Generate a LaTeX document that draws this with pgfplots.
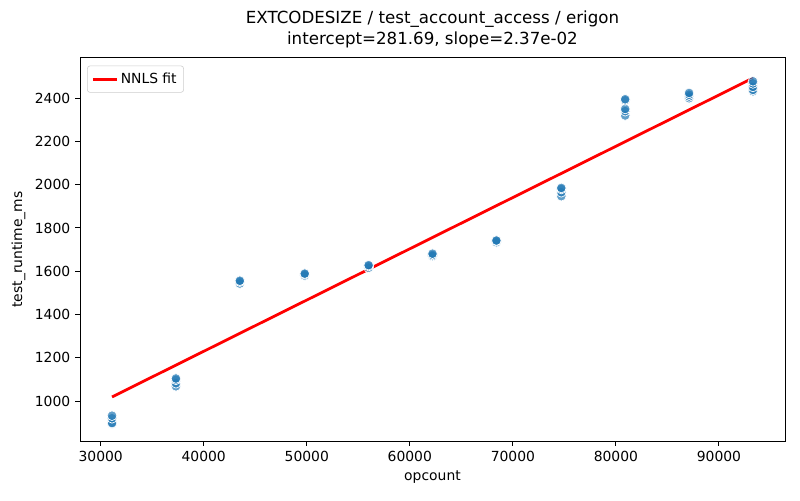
\documentclass[border=0pt]{standalone}
\usepackage{fontspec}
\setmainfont{DejaVu Sans}
\usepackage{pgfplots}
\pgfplotsset{compat=1.18}
\definecolor{mblue}{HTML}{1F77B4}
\begin{document}
\begin{tikzpicture}[x=0.72pt,y=0.72pt]
\useasboundingbox (0,0) rectangle (800,500);
\begin{axis}[
  at={(80pt*0.72,59pt*0.72)}, anchor=south west,
  scale only axis, width=507.6pt, height=275.8pt,
  xmin=27990, xmax=96410, ymin=815, ymax=2586,
  xtick={30000,40000,...,90000}, ytick={1000,1200,...,2400},
  /pgf/number format/assume math mode=true,
  /pgf/number format/fixed, /pgf/number format/1000 sep={},
  scaled x ticks=false, scaled y ticks=false,
  tick label style={font=\fontsize{10}{12}\selectfont},
  label style={font=\fontsize{10}{12}\selectfont},
  xlabel={opcount}, ylabel={test\_runtime\_ms},
  tick align=outside, tick pos=left,
  major tick length=3.5pt,
  axis line style={line width=0.7pt},
  every tick/.style={black, line width=0.7pt},
  title style={font=\fontsize{12}{14.5}\selectfont, align=center, yshift=-2pt},
  title={EXTCODESIZE / test\_account\_access / erigon\\intercept=281.69, slope=2.37e-02},
  legend style={font=\fontsize{10}{12}\selectfont, draw=black!20, rounded corners=2pt, inner sep=3pt, at={(0.01,0.98)}, anchor=north west},
  legend cell align=left,
]
\addplot[only marks, mark=*, mark size=3.5pt, mark options={fill=mblue, fill opacity=0.7, draw=white, line width=0.5pt}, forget plot] coordinates {
(31100,895) (31100,898) (31100,920) (31100,932)
(37300,1068) (37300,1082) (37300,1098) (37300,1104)
(43500,1543) (43500,1552) (43500,1556)
(49800,1580) (49800,1586) (49800,1589)
(56000,1616) (56000,1624) (56000,1628)
(62200,1670) (62200,1675) (62200,1681)
(68400,1734) (68400,1740) (68400,1742)
(74700,1947) (74700,1965) (74700,1980) (74700,1985)
(80900,2320) (80900,2340) (80900,2350) (80900,2390) (80900,2395)
(87100,2400) (87100,2408) (87100,2416) (87100,2424)
(93300,2432) (93300,2438) (93300,2452) (93300,2468) (93300,2478)
};
\addplot[red, line width=2pt] coordinates {(31100,1018.8) (93300,2492.9)};
\addlegendentry{NNLS fit}
\end{axis}
\end{tikzpicture}
\end{document}
